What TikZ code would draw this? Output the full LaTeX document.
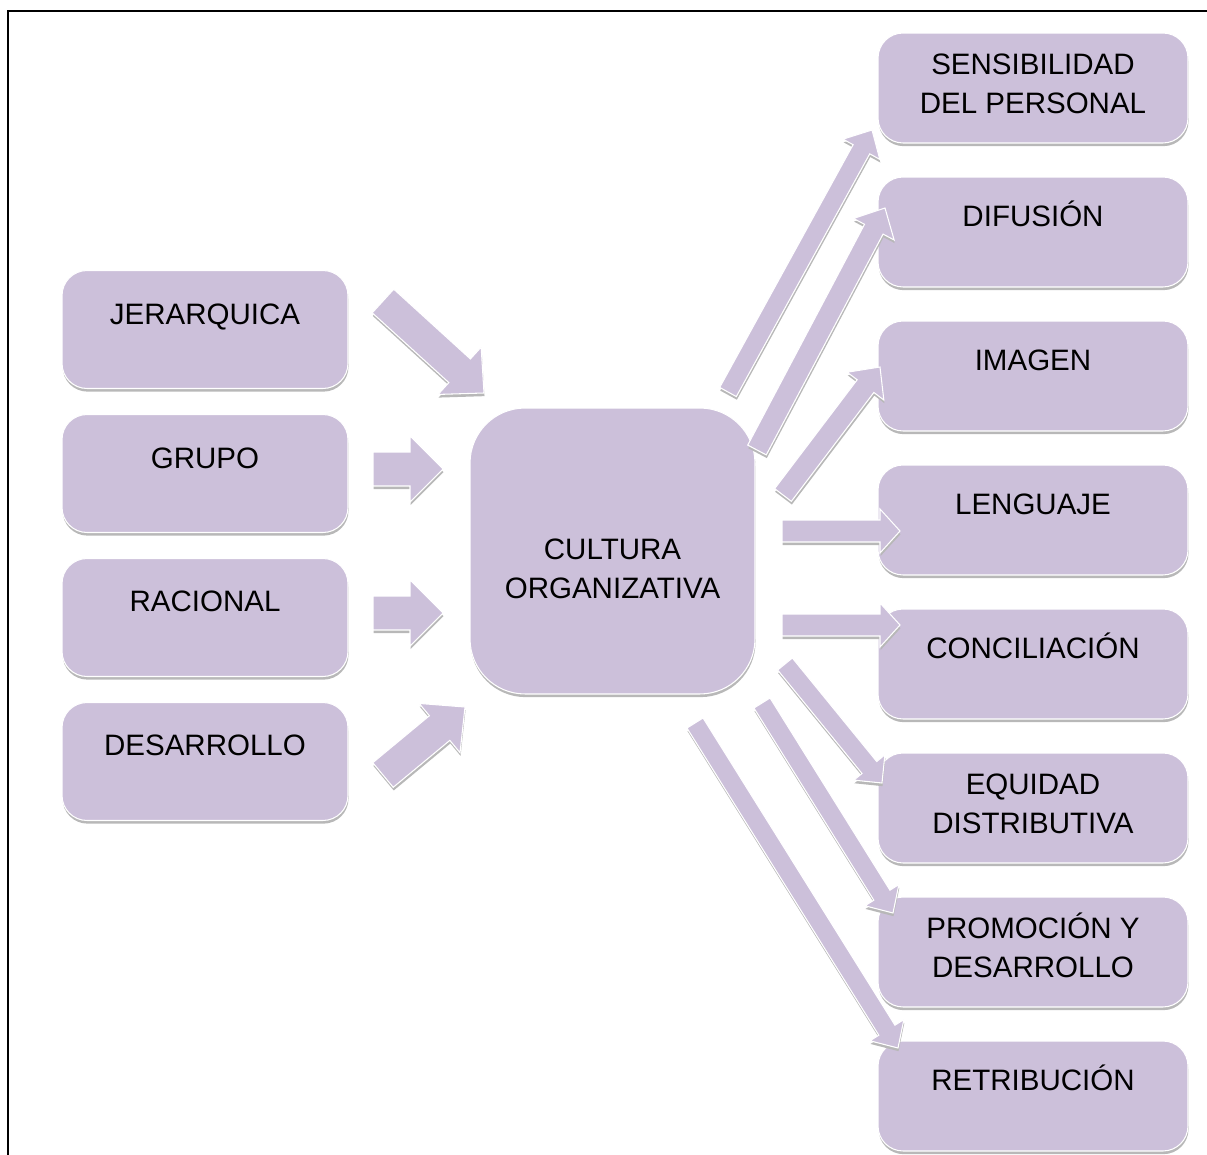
\documentclass[tikz,border=0pt]{standalone}
\usepackage{fontspec}
\setmainfont{Liberation Sans}
\usetikzlibrary{calc,shadows}
\definecolor{lav}{HTML}{CCC0DA}

% block arrow: tail, tip, half shaft width, half head width, head length
\newcommand\blockarrow[5]{%
  \coordinate (ba-n) at ($(#2)!#5!(#1)$);
  \path[blockbody]
    ($(#1)!#3!90:(#2)$) -- ($(ba-n)!#3!90:(#2)$) -- ($(ba-n)!#4!90:(#2)$) -- (#2)
    -- ($(ba-n)!#4!-90:(#2)$) -- ($(ba-n)!#3!-90:(#2)$) -- ($(#1)!#3!-90:(#2)$) -- cycle;
}

\begin{document}
\begin{tikzpicture}[x=0.02cm,y=-0.02cm,
  softshadow/.style={drop shadow={shadow xshift=0.3pt,shadow yshift=-1.8pt,fill=black!28,opacity=1}},
  card/.style={rounded corners=0.5cm, fill=lav, draw=white, line width=0.6pt, softshadow, inner sep=0pt},
  leftcard/.style={card, minimum width=5.72cm, minimum height=2.36cm},
  rightcard/.style={card, minimum width=6.2cm, minimum height=2.2cm},
  hubcard/.style={card, rounded corners=1.1cm, minimum width=5.7cm, minimum height=5.72cm},
  caption/.style={font=\fontsize{16.8}{22.2}\selectfont, align=center, anchor=base, inner sep=0pt},
  blockbody/.style={fill=lav, draw=white, line width=0.6pt, line join=miter, softshadow}]

\useasboundingbox (0,0) rectangle (1207,1155);

% outer frame
\draw[line width=1.1pt] (8,1300) -- (8,11) -- (1300,11);

% left column
\node[leftcard] (jer) at (205,329.5) {};
\node[leftcard] (gru) at (205,473.5) {};
\node[leftcard] (rac) at (205,617.5) {};
\node[leftcard] (des) at (205,761.5) {};

% central box
\node[hubcard] (cult) at (612.5,551) {};

% right column
\node[rightcard] (sen) at (1033,88) {};
\node[rightcard] (dif) at (1033,232) {};
\node[rightcard] (ima) at (1033,376) {};
\node[rightcard] (len) at (1033,520) {};
\node[rightcard] (con) at (1033,664) {};
\node[rightcard] (equ) at (1033,808) {};
\node[rightcard] (pro) at (1033,952) {};
\node[rightcard] (ret) at (1033,1096) {};

% labels (base = baseline of the last line)
\node[caption] at ($(jer.north)+(0,55)$) {JERARQUICA};
\node[caption] at ($(gru.north)+(0,55)$) {GRUPO};
\node[caption] at ($(rac.north)+(0,54)$) {RACIONAL};
\node[caption] at ($(des.north)+(0,54)$) {DESARROLLO};
\node[caption] at ($(cult.north)+(0,190.6)$) {CULTURA\\ORGANIZATIVA};
\node[caption] at ($(sen.north)+(0,80.6)$) {SENSIBILIDAD\\DEL PERSONAL};
\node[caption] at ($(dif.north)+(0,49.6)$) {DIFUSIÓN};
\node[caption] at ($(ima.north)+(0,49.6)$) {IMAGEN};
\node[caption] at ($(len.north)+(0,49.6)$) {LENGUAJE};
\node[caption] at ($(con.north)+(0,49.6)$) {CONCILIACIÓN};
\node[caption] at ($(equ.north)+(0,80.6)$) {EQUIDAD\\DISTRIBUTIVA};
\node[caption] at ($(pro.north)+(0,80.6)$) {PROMOCIÓN Y\\DESARROLLO};
\node[caption] at ($(ret.north)+(0,49.6)$) {RETRIBUCIÓN};

% arrow ends
\coordinate (jer-t) at (383,301);  \coordinate (jer-h) at (484,393);
\coordinate (gru-t) at (373,469);  \coordinate (gru-h) at (443,469);
\coordinate (rac-t) at (373,613);  \coordinate (rac-h) at (443,613);
\coordinate (des-t) at (383,775);  \coordinate (des-h) at (465,707);

\coordinate (sen-t) at (728,392);  \coordinate (sen-h) at (872,130);
\coordinate (dif-t) at (757,450);  \coordinate (dif-h) at (885,208);
\coordinate (ima-t) at (783,495);  \coordinate (ima-h) at (880,367);
\coordinate (len-t) at (782,531);  \coordinate (len-h) at (900,531);
\coordinate (con-t) at (782,625);  \coordinate (con-h) at (900,625);
\coordinate (equ-t) at (785,664);  \coordinate (equ-h) at (882,783);
\coordinate (pro-t) at (762,703);  \coordinate (pro-h) at (893,913);
\coordinate (ret-t) at (695,723);  \coordinate (ret-h) at (898,1048);

% incoming arrows
\blockarrow{jer-t}{jer-h}{0.32cm}{0.64cm}{0.66cm}
\blockarrow{gru-t}{gru-h}{0.34cm}{0.66cm}{0.66cm}
\blockarrow{rac-t}{rac-h}{0.34cm}{0.66cm}{0.66cm}
\blockarrow{des-t}{des-h}{0.32cm}{0.64cm}{0.66cm}

% outgoing arrows
\blockarrow{sen-t}{sen-h}{0.19cm}{0.42cm}{0.44cm}
\blockarrow{dif-t}{dif-h}{0.21cm}{0.46cm}{0.48cm}
\blockarrow{ima-t}{ima-h}{0.21cm}{0.46cm}{0.48cm}
\blockarrow{len-t}{len-h}{0.22cm}{0.44cm}{0.40cm}
\blockarrow{con-t}{con-h}{0.22cm}{0.44cm}{0.40cm}
\blockarrow{equ-t}{equ-h}{0.19cm}{0.40cm}{0.40cm}
\blockarrow{pro-t}{pro-h}{0.19cm}{0.40cm}{0.42cm}
\blockarrow{ret-t}{ret-h}{0.19cm}{0.40cm}{0.42cm}
\end{tikzpicture}
\end{document}
